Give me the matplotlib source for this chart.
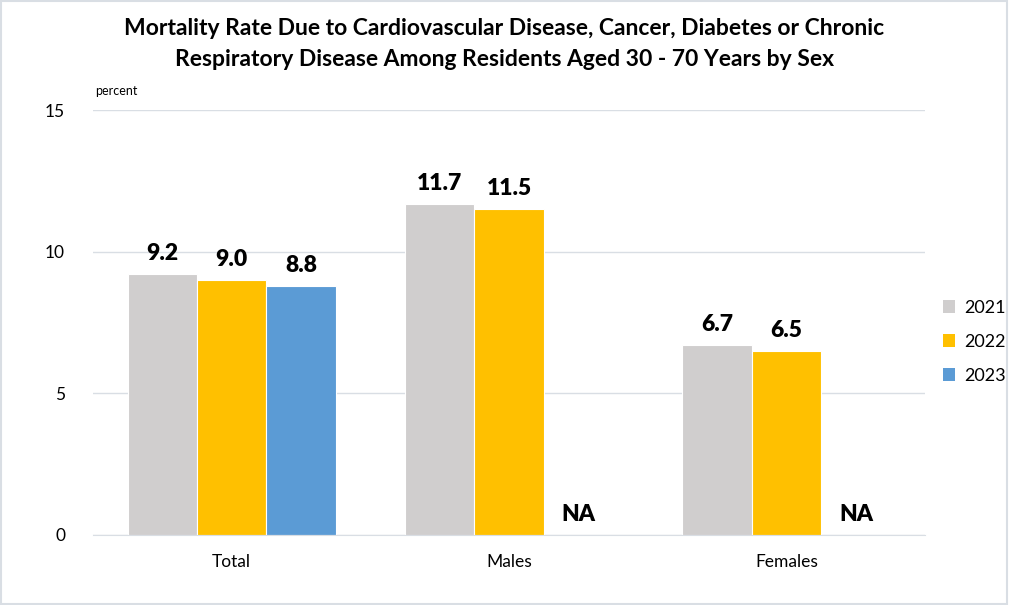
import numpy as np
import matplotlib.pyplot as plt
from matplotlib.patches import Patch

categories = ['Total', 'Males', 'Females']
years = ['2021', '2022', '2023']
values_2021 = [9.2, 11.7, 6.7]
values_2022 = [9.0, 11.5, 6.5]
values_2023 = [8.8, None, None]
colors = ['#D0CECE', '#FFC000', '#5B9BD5']

title = ('Mortality Rate Due to Cardiovascular Disease, Cancer, Diabetes or Chronic\n'
         'Respiratory Disease Among Residents Aged 30 - 70 Years by Sex')

plt.rcParams['font.family'] = ['Lato', 'DejaVu Sans']

fig = plt.figure(figsize=(10.09, 6.05), dpi=100)
ax = fig.add_axes([0.092, 0.116, 0.825, 0.702])

x = np.arange(len(categories))
width = 0.25
series = [values_2021, values_2022, values_2023]

for i, (vals, col) in enumerate(zip(series, colors)):
    pos = x + (i - 1) * width
    heights = [v if v is not None else 0 for v in vals]
    ax.bar(pos, heights, width=width, color=col, edgecolor='white', linewidth=0.8)
    for p, v in zip(pos, vals):
        if v is None:
            ax.text(p, 0.35, 'NA', ha='center', va='bottom', fontsize=16.5, fontweight='heavy')
        else:
            ax.text(p, v + 0.35, f'{v:.1f}', ha='center', va='bottom', fontsize=16.5, fontweight='heavy')

ax.set_xlim(-0.5, 2.5)
ax.set_ylim(0, 15)
ax.set_yticks([0, 5, 10, 15])
ax.set_xticks(x)
ax.set_xticklabels(categories)
ax.tick_params(axis='both', length=0, labelsize=12.5)
ax.tick_params(axis='x', pad=14)
ax.tick_params(axis='y', pad=20)
ax.grid(axis='y', color='#D9DEE4', linewidth=1)
ax.set_axisbelow(True)
for s in ['top', 'right', 'left']:
    ax.spines[s].set_visible(False)
ax.spines['bottom'].set_color('#D9DEE4')

ax.text(0.003, 1.03, 'percent', transform=ax.transAxes, fontsize=9, ha='left', va='bottom')

fig.suptitle(title, y=0.97, fontsize=16.5, fontweight='bold', linespacing=1.55)

handles = [Patch(facecolor=c, label=y) for c, y in zip(colors, years)]
fig.legend(handles=handles, loc='center left', bbox_to_anchor=(0.918, 0.435),
           frameon=False, fontsize=13, handlelength=0.7, handleheight=0.7,
           labelspacing=1.0, handletextpad=0.5)

fig.patches.append(plt.Rectangle((0.001, 0.001), 0.997, 0.997, transform=fig.transFigure,
                                 fill=False, edgecolor='#D9DEE4', linewidth=1.5))

fig.savefig('out.png', dpi=100)
